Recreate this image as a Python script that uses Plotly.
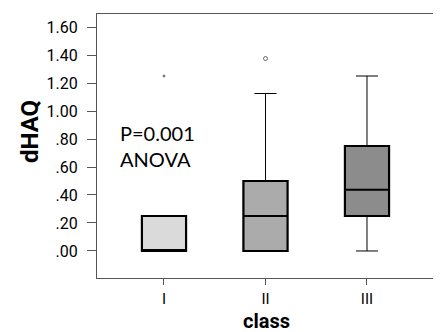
import plotly.graph_objects as go

categories = ["I", "II", "III"]
q1 = [0.0, 0.0, 0.25]
median = [0.0, 0.25, 0.4375]
q3 = [0.25, 0.5, 0.75]
lowerfence = [0.0, 0.0, 0.0]
upperfence = [0.25, 1.125, 1.25]
box_colors = ["#dadada", "#ababab", "#8c8c8c"]

outlier_x = ["I", "II"]
outlier_y = [1.25, 1.375]
outlier_symbols = ["circle", "circle-open"]
outlier_sizes = [2, 4]

ytick_vals = [0.0, 0.2, 0.4, 0.6, 0.8, 1.0, 1.2, 1.4, 1.6]
ytick_text = [".00", ".20", ".40", ".60", ".80", "1.00", "1.20", "1.40", "1.60"]

narrow = "Roboto, sans-serif"

fig = go.Figure()

# whiskers (thin)
for i, c in enumerate(categories):
    fig.add_trace(go.Box(
        x=[c], q1=[q1[i]], median=[median[i]], q3=[q3[i]],
        lowerfence=[lowerfence[i]], upperfence=[upperfence[i]],
        fillcolor=box_colors[i], line=dict(color="black", width=1),
        width=0.435, whiskerwidth=0.5, showlegend=False, hoverinfo="skip",
    ))
# boxes (thick border)
for i, c in enumerate(categories):
    fig.add_trace(go.Box(
        x=[c], q1=[q1[i]], median=[median[i]], q3=[q3[i]],
        lowerfence=[q1[i]], upperfence=[q3[i]],
        fillcolor=box_colors[i], line=dict(color="black", width=2.2),
        width=0.435, whiskerwidth=0, showlegend=False, hoverinfo="skip",
    ))

fig.add_trace(go.Scatter(
    x=outlier_x, y=outlier_y, mode="markers",
    marker=dict(symbol=outlier_symbols, size=outlier_sizes, color="#333",
                line=dict(color="#333", width=1)),
    showlegend=False, hoverinfo="skip",
))

fig.add_annotation(
    x=0, y=0.75, xref="paper", yref="y", xanchor="left", yanchor="middle",
    xshift=21, text="P=0.001<br>ANOVA", align="left", showarrow=False,
    font=dict(family="Lato, Open Sans, sans-serif", size=20, color="black"),
)
# axis titles as annotations (fixed positions)
fig.add_annotation(
    x=0.5, y=0, xref="paper", yref="paper", yanchor="middle",
    yshift=-43, text="<b>class</b>", showarrow=False,
    font=dict(family=narrow, size=20, color="black"),
)
fig.add_annotation(
    x=0, y=0.5, xref="paper", yref="paper", xanchor="center",
    xshift=-67, yshift=14, text="<b>dHAQ</b>", textangle=-90, showarrow=False,
    font=dict(family=narrow, size=24, color="black"),
)

# page body has an 8px default margin: compensate so the plot sits where the reference has it
fig.update_layout(
    width=441, height=332,
    margin=dict(l=89, r=14, t=6, b=62),
    paper_bgcolor="white", plot_bgcolor="white",
    boxmode="overlay",
    xaxis=dict(
        type="category", categoryorder="array", categoryarray=categories,
        range=[-0.66, 2.67], showline=True, mirror=True, linecolor="#555",
        linewidth=1, ticks="outside", ticklen=6, tickcolor="#555",
        showgrid=False, zeroline=False, automargin=False, ticklabelstandoff=1,
        tickfont=dict(family=narrow, size=15, color="black"),
    ),
    yaxis=dict(
        range=[-0.193, 1.693], showline=True, mirror=True, linecolor="#555",
        linewidth=1, ticks="outside", ticklen=9, tickcolor="#555",
        tickvals=ytick_vals, ticktext=ytick_text, showgrid=False, zeroline=False,
        automargin=False, ticklabelstandoff=6,
        tickfont=dict(family=narrow, size=16, color="black"),
    ),
)

fig.write_html("out.html")
